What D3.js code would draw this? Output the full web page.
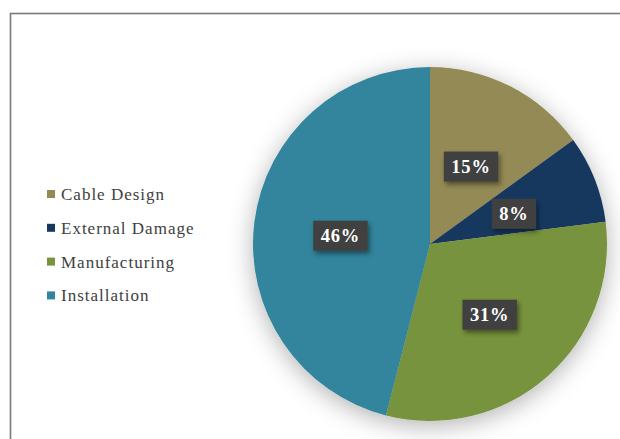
<!DOCTYPE html>
<html>
<head>
<meta charset="utf-8">
<script src="https://cdn.jsdelivr.net/npm/d3@7/dist/d3.min.js"></script>
<style>
  html, body { margin: 0; padding: 0; background: #fff; }
  svg { display: block; }
</style>
</head>
<body>
<script>
// Failure causes, share of total (%)
const categories = ["Cable Design", "External Damage", "Manufacturing", "Installation"];
const shares = [15, 8, 31, 46];
const colors = ["#948A54", "#17375E", "#77933C", "#31859C"];

const W = 620, H = 439;
const svg = d3.select("body").append("svg").attr("width", W).attr("height", H);

const defs = svg.append("defs");
const pieShadow = defs.append("filter").attr("id", "pieShadow")
  .attr("x", "-30%").attr("y", "-30%").attr("width", "160%").attr("height", "160%");
pieShadow.append("feDropShadow").attr("dx", 0).attr("dy", 5)
  .attr("stdDeviation", 12).attr("flood-color", "#000").attr("flood-opacity", 0.3);

const boxShadow = defs.append("filter").attr("id", "boxShadow")
  .attr("x", "-40%").attr("y", "-40%").attr("width", "180%").attr("height", "200%");
boxShadow.append("feDropShadow").attr("dx", 2).attr("dy", 3)
  .attr("stdDeviation", 2.5).attr("flood-color", "#000").attr("flood-opacity", 0.45);

// chart frame (continues past the right and bottom edges)
svg.append("rect")
  .attr("x", 10.5).attr("y", 13.5).attr("width", W + 20).attr("height", H + 20)
  .attr("fill", "#fff").attr("stroke", "#7a7a7a").attr("stroke-width", 1.6);

const cx = 430, cy = 244, R = 177;
const pie = d3.pie().sort(null).value(d => d)(shares);
const arc = d3.arc().innerRadius(0).outerRadius(R);
const labelArc = d3.arc().innerRadius(R * 0.51).outerRadius(R * 0.51);

const g = svg.append("g").attr("transform", `translate(${cx},${cy})`);
g.append("g").attr("filter", "url(#pieShadow)")
  .selectAll("path").data(pie).join("path")
  .attr("d", arc)
  .attr("fill", (d, i) => colors[i]);

// value labels in dark boxes, sitting slightly below the centroid
const labels = g.selectAll("g.lbl").data(pie).join("g")
  .attr("class", "lbl")
  .attr("transform", d => {
    const [x, y] = labelArc.centroid(d);
    return `translate(${x},${y + 3})`;
  });

labels.each(function (d) {
  const sel = d3.select(this);
  const t = sel.append("text")
    .attr("text-anchor", "middle")
    .attr("dy", "0.35em")
    .attr("font-family", "'Liberation Serif', 'Times New Roman', serif")
    .attr("font-weight", "bold")
    .attr("font-size", 18.5)
    .attr("letter-spacing", 0.8)
    .attr("fill", "#ffffff")
    .text(d.data + "%");
  const bb = t.node().getBBox();
  const bw = bb.width + 15, bh = 30;
  sel.insert("rect", "text")
    .attr("x", -bw / 2).attr("y", -bh / 2)
    .attr("width", bw).attr("height", bh)
    .attr("fill", "#404040")
    .attr("filter", "url(#boxShadow)");
});

// legend
const legend = svg.append("g").attr("transform", "translate(47,190)");
const item = legend.selectAll("g").data(categories).join("g")
  .attr("transform", (d, i) => `translate(0,${i * 33.8})`);
item.append("rect").attr("width", 8).attr("height", 8)
  .attr("fill", (d, i) => colors[i]);
item.append("text")
  .attr("x", 14).attr("y", 10)
  .attr("font-family", "'Liberation Serif', 'Times New Roman', serif")
  .attr("font-size", 17)
  .attr("letter-spacing", 1.0)
  .attr("fill", "#404040")
  .text(d => d);
</script>
</body>
</html>
